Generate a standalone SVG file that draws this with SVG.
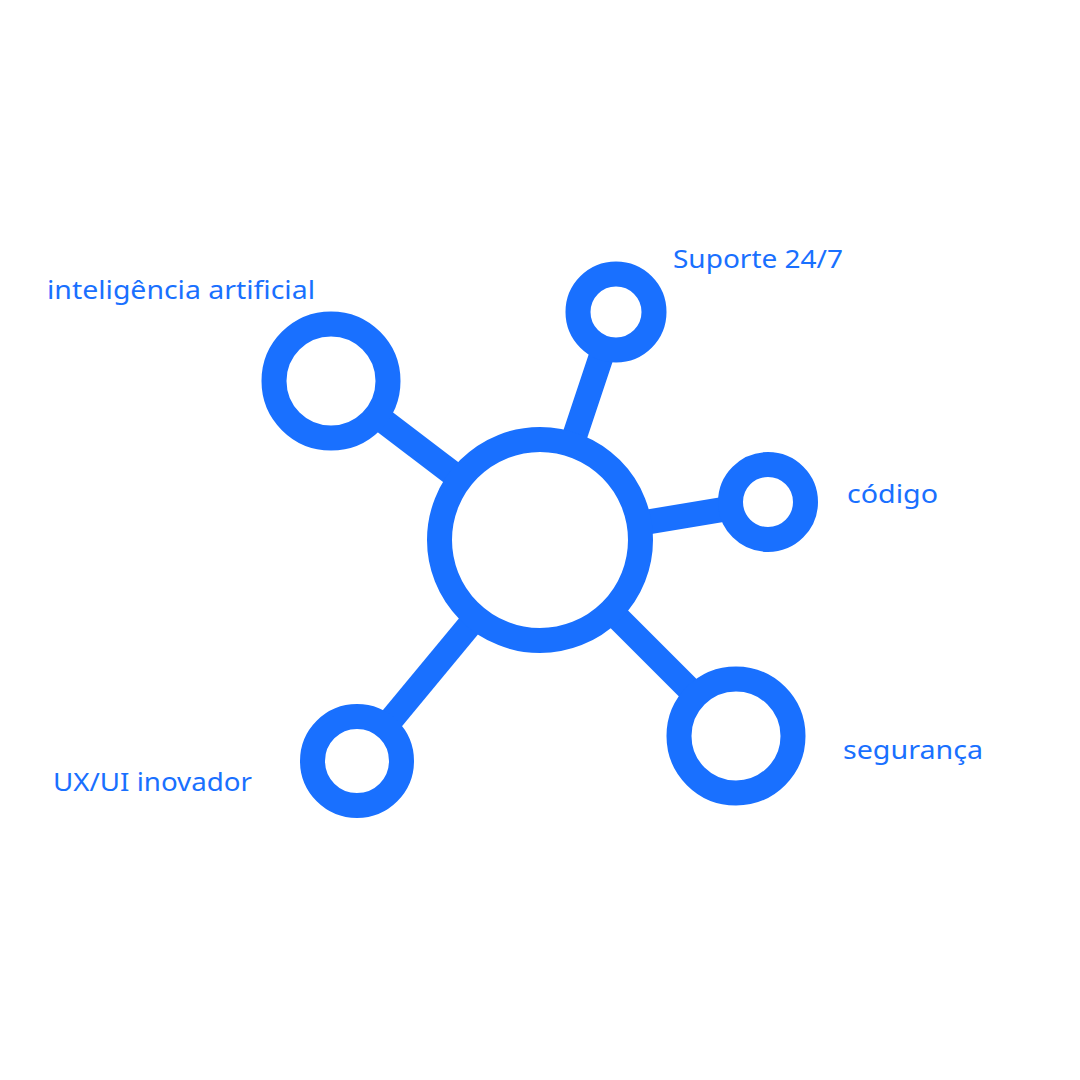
<svg xmlns="http://www.w3.org/2000/svg" width="1080" height="1080" viewBox="0 0 1080 1080" shape-rendering="geometricPrecision">
<style>
.edge{stroke:#1970ff;stroke-width:25;stroke-linecap:butt;fill:none}
.ring{stroke:#1970ff;stroke-width:25;fill:#fff}
.lbl{font-family:"Noto Sans","Open Sans","DejaVu Sans",sans-serif;font-size:25px;fill:#1970ff}
</style>
<rect width="1080" height="1080" fill="#fff"/>
<g id="connectors">
<line class="edge" x1="540" y1="540" x2="331" y2="381"/>
<line class="edge" x1="540" y1="540" x2="616" y2="312"/>
<line class="edge" x1="540" y1="540" x2="768" y2="502"/>
<line class="edge" x1="540" y1="540" x2="736" y2="736"/>
<line class="edge" x1="540" y1="540" x2="357" y2="761"/>
</g>
<g id="hub"><circle class="ring" cx="540" cy="540" r="100.5"/></g>
<g id="node-ia">
<circle class="ring" cx="331" cy="381" r="57"/>
<text class="lbl" x="47" y="299" textLength="268" lengthAdjust="spacingAndGlyphs">inteligência artificial</text>
</g>
<g id="node-suporte">
<circle class="ring" cx="616" cy="312" r="38"/>
<text class="lbl" x="673" y="268" textLength="170" lengthAdjust="spacingAndGlyphs">Suporte 24/7</text>
</g>
<g id="node-codigo">
<circle class="ring" cx="768" cy="502" r="37.5"/>
<text class="lbl" x="847" y="503" textLength="91" lengthAdjust="spacingAndGlyphs">código</text>
</g>
<g id="node-seguranca">
<circle class="ring" cx="736" cy="736" r="57"/>
<text class="lbl" x="843" y="759" textLength="140" lengthAdjust="spacingAndGlyphs">segurança</text>
</g>
<g id="node-ux">
<circle class="ring" cx="357" cy="761" r="44.5"/>
<text class="lbl" x="53" y="791" textLength="199" lengthAdjust="spacingAndGlyphs">UX/UI inovador</text>
</g>
</svg>
